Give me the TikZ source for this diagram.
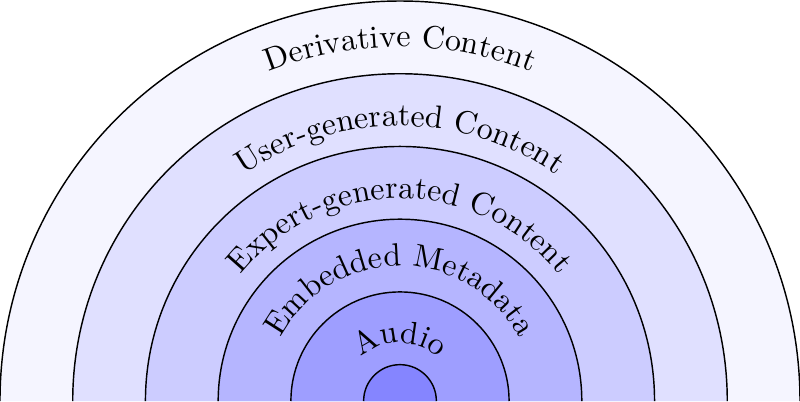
\documentclass[tikz,border=0pt]{standalone}
\usetikzlibrary{decorations.text}
\tikzset{
  ring/.style={draw=black, line width=0.45pt},
  arclabel/.style={decorate, decoration={text along path, text align=center, text={#1}}}
}
\begin{document}
\begin{tikzpicture}
\useasboundingbox (-4.4,0) rectangle (4.4,4.411);
\foreach \r/\c in {4.4/4, 3.6/12, 2.8/20, 2.0/29, 1.2/38, 0.4/48} {
  \fill[blue!\c] (-\r,0) arc (180:0:\r) -- cycle;
  \draw[ring] (-\r,0) arc (180:0:\r);
}
\path[arclabel={Derivative Content}] (-3.895,0) arc (180:0:3.895);
\path[arclabel={User-generated Content}] (-3.025,0) arc (180:0:3.025);
\path[arclabel={Expert-generated Content}] (-2.23,0) arc (180:0:2.23);
\path[arclabel={Embedded Metadata}] (-1.485,0) arc (180:0:1.485);
\path[arclabel={Audio}] (-0.64,0) arc (180:0:0.64);
\end{tikzpicture}
\end{document}
